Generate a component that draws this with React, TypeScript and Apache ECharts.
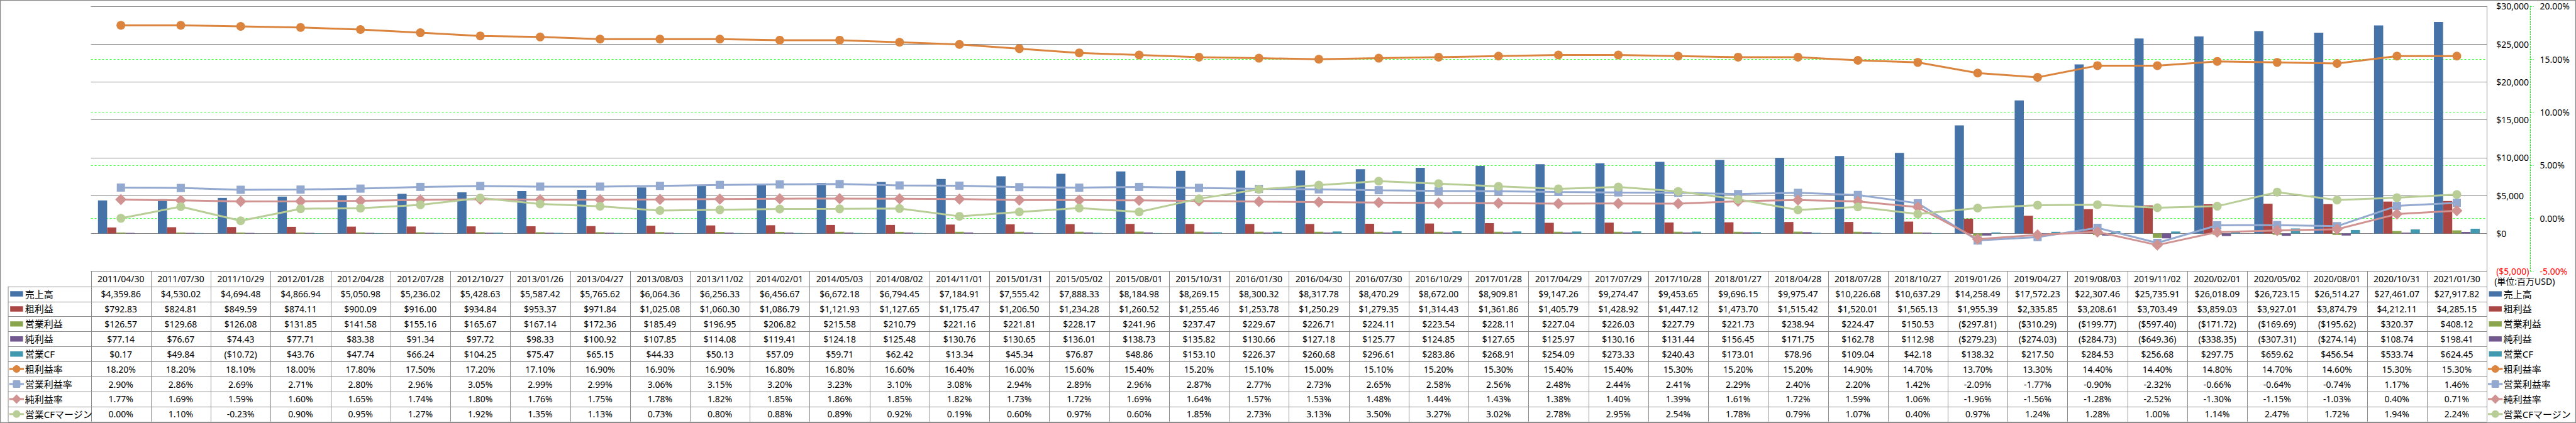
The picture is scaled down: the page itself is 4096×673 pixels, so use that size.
import React, { useEffect, useRef } from "react";
import * as echarts from "echarts";

const dates = [
  "2011/04/30", "2011/07/30", "2011/10/29", "2012/01/28", "2012/04/28", "2012/07/28", "2012/10/27", "2013/01/26",
  "2013/04/27", "2013/08/03", "2013/11/02", "2014/02/01", "2014/05/03", "2014/08/02", "2014/11/01", "2015/01/31",
  "2015/05/02", "2015/08/01", "2015/10/31", "2016/01/30", "2016/04/30", "2016/07/30", "2016/10/29", "2017/01/28",
  "2017/04/29", "2017/07/29", "2017/10/28", "2018/01/27", "2018/04/28", "2018/07/28", "2018/10/27", "2019/01/26",
  "2019/04/27", "2019/08/03", "2019/11/02", "2020/02/01", "2020/05/02", "2020/08/01", "2020/10/31", "2021/01/30",
];

const revenue = [
  4359.86, 4530.02, 4694.48, 4866.94, 5050.98, 5236.02, 5428.63, 5587.42, 5765.62, 6064.36, 6256.33, 6456.67,
  6672.18, 6794.45, 7184.91, 7555.42, 7888.33, 8184.98, 8269.15, 8300.32, 8317.78, 8470.29, 8672.0, 8909.81,
  9147.26, 9274.47, 9453.65, 9696.15, 9975.47, 10226.68, 10637.29, 14258.49, 17572.23, 22307.46, 25735.91,
  26018.09, 26723.15, 26514.27, 27461.07, 27917.82,
];
const grossProfit = [
  792.83, 824.81, 849.59, 874.11, 900.09, 916.0, 934.84, 953.37, 971.84, 1025.08, 1060.3, 1086.79, 1121.93,
  1127.65, 1175.47, 1206.5, 1234.28, 1260.52, 1255.46, 1253.78, 1250.29, 1279.35, 1314.43, 1361.86, 1405.79,
  1428.92, 1447.12, 1473.7, 1515.42, 1520.01, 1565.13, 1955.39, 2335.85, 3208.61, 3703.49, 3859.03, 3927.01,
  3874.79, 4212.11, 4285.15,
];
const operatingIncome = [
  126.57, 129.68, 126.08, 131.85, 141.58, 155.16, 165.67, 167.14, 172.36, 185.49, 196.95, 206.82, 215.58, 210.79,
  221.16, 221.81, 228.17, 241.96, 237.47, 229.67, 226.71, 224.11, 223.54, 228.11, 227.04, 226.03, 227.79, 221.73,
  238.94, 224.47, 150.53, -297.81, -310.29, -199.77, -597.4, -171.72, -169.69, -195.62, 320.37, 408.12,
];
const netIncome = [
  77.14, 76.67, 74.43, 77.71, 83.38, 91.34, 97.72, 98.33, 100.92, 107.85, 114.08, 119.41, 124.18, 125.48, 130.76,
  130.65, 136.01, 138.73, 135.82, 130.66, 127.18, 125.77, 124.85, 127.65, 125.97, 130.16, 131.44, 156.45, 171.75,
  162.78, 112.98, -279.23, -274.03, -284.73, -649.36, -338.35, -307.31, -274.14, 108.74, 198.41,
];
const operatingCF = [
  0.17, 49.84, -10.72, 43.76, 47.74, 66.24, 104.25, 75.47, 65.15, 44.33, 50.13, 57.09, 59.71, 62.42, 13.34, 45.34,
  76.87, 48.86, 153.1, 226.37, 260.68, 296.61, 283.86, 268.91, 254.09, 273.33, 240.43, 173.01, 78.96, 109.04,
  42.18, 138.32, 217.5, 284.53, 256.68, 297.75, 659.62, 456.54, 533.74, 624.45,
];
const grossMargin = [
  18.2, 18.2, 18.1, 18.0, 17.8, 17.5, 17.2, 17.1, 16.9, 16.9, 16.9, 16.8, 16.8, 16.6, 16.4, 16.0, 15.6, 15.4, 15.2,
  15.1, 15.0, 15.1, 15.2, 15.3, 15.4, 15.4, 15.3, 15.2, 15.2, 14.9, 14.7, 13.7, 13.3, 14.4, 14.4, 14.8, 14.7, 14.6,
  15.3, 15.3,
];
const operatingMargin = [
  2.9, 2.86, 2.69, 2.71, 2.8, 2.96, 3.05, 2.99, 2.99, 3.06, 3.15, 3.2, 3.23, 3.1, 3.08, 2.94, 2.89, 2.96, 2.87,
  2.77, 2.73, 2.65, 2.58, 2.56, 2.48, 2.44, 2.41, 2.29, 2.4, 2.2, 1.42, -2.09, -1.77, -0.9, -2.32, -0.66, -0.64,
  -0.74, 1.17, 1.46,
];
const netMargin = [
  1.77, 1.69, 1.59, 1.6, 1.65, 1.74, 1.8, 1.76, 1.75, 1.78, 1.82, 1.85, 1.86, 1.85, 1.82, 1.73, 1.72, 1.69, 1.64,
  1.57, 1.53, 1.48, 1.44, 1.43, 1.38, 1.4, 1.39, 1.61, 1.72, 1.59, 1.06, -1.96, -1.56, -1.28, -2.52, -1.3, -1.15,
  -1.03, 0.4, 0.71,
];
const cfMargin = [
  0.0, 1.1, -0.23, 0.9, 0.95, 1.27, 1.92, 1.35, 1.13, 0.73, 0.8, 0.88, 0.89, 0.92, 0.19, 0.6, 0.97, 0.6, 1.85,
  2.73, 3.13, 3.5, 3.27, 3.02, 2.78, 2.95, 2.54, 1.78, 0.79, 1.07, 0.4, 0.97, 1.24, 1.28, 1.0, 1.14, 2.47, 1.72,
  1.94, 2.24,
];

const unitLabel = "(単位:百万USD)";

const S = 0.522;
const FONT = "'Noto Sans','Noto Sans CJK JP',sans-serif";
const GRID = "#868686";
const BORDER = "#8c8c8c";

type Row = {
  name: string;
  values: number[];
  kind: "bar" | "line";
  color: string;
  symbol?: "circle" | "rect" | "diamond";
  pct: boolean;
};

const rows: Row[] = [
  { name: "売上高", values: revenue, kind: "bar", color: "#4572A7", pct: false },
  { name: "粗利益", values: grossProfit, kind: "bar", color: "#AA4643", pct: false },
  { name: "営業利益", values: operatingIncome, kind: "bar", color: "#89A54E", pct: false },
  { name: "純利益", values: netIncome, kind: "bar", color: "#71588F", pct: false },
  { name: "営業CF", values: operatingCF, kind: "bar", color: "#4198AF", pct: false },
  { name: "粗利益率", values: grossMargin, kind: "line", color: "#DB843D", symbol: "circle", pct: true },
  { name: "営業利益率", values: operatingMargin, kind: "line", color: "#93A9CF", symbol: "rect", pct: true },
  { name: "純利益率", values: netMargin, kind: "line", color: "#D19392", symbol: "diamond", pct: true },
  { name: "営業CFマージン", values: cfMargin, kind: "line", color: "#B9CD96", symbol: "circle", pct: true },
];

const fmtMoney = (v: number) => {
  const s = Math.abs(v).toLocaleString("en-US", { minimumFractionDigits: 2, maximumFractionDigits: 2 });
  return v < 0 ? `($${s})` : `$${s}`;
};
const fmtPct = (v: number) => `${v.toFixed(2)}%`;

export default function App() {
  const ref = useRef<HTMLDivElement>(null);
  useEffect(() => {
    const el = ref.current!;
    const chart = echarts.init(el, null, { renderer: "svg" });

    const W = 4096;
    const H = 673;
    const gridLeft = 277 * S;
    const gridTop = 19 * S;
    const gridRightX = 7575 * S;
    const gridBottomY = 827 * S;
    const rowH = 45.8 * S;
    const labelColLeft = 25 * S;

    const series: any[] = rows.map((r) => {
      if (r.kind === "bar") {
        return {
          name: r.name,
          type: "bar",
          yAxisIndex: 0,
          data: r.values,
          barGap: "0%",
          barCategoryGap: "23.5%",
          itemStyle: { color: r.color },
        };
      }
      return {
        name: r.name,
        type: "line",
        yAxisIndex: 1,
        data: r.values,
        symbol: r.symbol,
        symbolSize: r.symbol === "diamond" ? 18 : r.symbol === "rect" ? 13 : 14,
        lineStyle: { color: r.color, width: 3 },
        itemStyle: { color: r.color },
      };
    });

    const option: any = {
      animation: false,
      backgroundColor: "#ffffff",
      textStyle: { fontFamily: FONT },
      grid: {
        left: gridLeft,
        top: gridTop,
        width: gridRightX - gridLeft,
        height: gridBottomY - gridTop,
        containLabel: false,
      },
      xAxis: {
        type: "category",
        data: dates,
        boundaryGap: true,
        axisLine: { show: true, onZero: false, lineStyle: { color: BORDER, width: 1 } },
        axisTick: { show: false },
        splitLine: { show: false },
        axisLabel: {
          interval: 0,
          fontSize: 14,
          color: "#000",
          fontFamily: FONT,
          margin: 12,
          verticalAlign: "middle",
        },
      },
      yAxis: [
        {
          type: "value",
          position: "right",
          min: -5000,
          max: 30000,
          interval: 5000,
          z: 1,
          axisLine: { show: true, lineStyle: { color: GRID, width: 1 } },
          axisTick: { show: false },
          splitLine: { show: true, lineStyle: { color: GRID, width: 1 } },
          axisLabel: {
            margin: 15,
            fontSize: 14,
            fontFamily: FONT,
            color: (v: any) => (Number(v) < 0 ? "#ff0000" : "#000000"),
            formatter: (v: number) =>
              v < 0 ? `($${Math.abs(v).toLocaleString("en-US")})` : `$${v.toLocaleString("en-US")}`,
          },
        },
        {
          type: "value",
          position: "right",
          offset: (7708 - 7575) * S,
          min: -5,
          max: 20,
          interval: 5,
          axisLine: { show: true, lineStyle: { color: "#00ff00", width: 1, type: [2, 2] } },
          axisTick: { show: true, inside: false, length: 5, lineStyle: { color: "#00ff00", type: [2, 2] } },
          splitLine: { show: true, lineStyle: { color: "#00ff00", width: 0.8, type: [3, 3] } },
          axisLabel: {
            margin: 15,
            fontSize: 14,
            fontFamily: FONT,
            color: (v: any) => (Number(v) < 0 ? "#ff0000" : "#000000"),
            formatter: (v: number) => `${v.toFixed(2)}%`,
          },
        },
      ],
      series,
    };

    chart.setOption(option);

    // Build the data table from the category axis positions
    const xs = dates.map((_, i) => chart.convertToPixel({ xAxisIndex: 0 }, i) as number);
    const colW = xs.length > 1 ? xs[1] - xs[0] : gridRightX - gridLeft;
    const tableTop = gridBottomY;
    const firstRowTop = tableTop + rowH;
    const tableBottom = firstRowTop + rows.length * rowH;
    const tableRight = xs[xs.length - 1] + colW / 2;

    const g: any[] = [];
    // outer frame
    g.push({
      type: "rect",
      silent: true,
      shape: { x: 0.5, y: 0.5, width: W - 1, height: H - 1 },
      style: { fill: "none", stroke: "#8a8a8a", lineWidth: 1.5 },
      z: 10,
    });

    // horizontal lines
    for (let r = 0; r <= rows.length; r++) {
      const y = Math.round(firstRowTop + r * rowH) + 0.5;
      g.push({
        type: "line",
        silent: true,
        shape: { x1: labelColLeft, y1: y, x2: tableRight, y2: y },
        style: { stroke: BORDER, lineWidth: 1 },
      });
    }
    // vertical lines
    g.push({
      type: "line",
      silent: true,
      shape: { x1: labelColLeft, y1: firstRowTop, x2: labelColLeft, y2: tableBottom },
      style: { stroke: BORDER, lineWidth: 1 },
    });
    for (let i = 0; i <= xs.length; i++) {
      const x = Math.round(xs[0] - colW / 2 + i * colW) + 0.5;
      g.push({
        type: "line",
        silent: true,
        shape: { x1: x, y1: tableTop, x2: x, y2: tableBottom },
        style: { stroke: BORDER, lineWidth: 1 },
      });
    }

    // cell values
    rows.forEach((r, ri) => {
      const cy = firstRowTop + ri * rowH + rowH / 2;
      r.values.forEach((v, i) => {
        g.push({
          type: "text",
          silent: true,
          x: xs[i],
          y: cy,
          style: {
            text: r.pct ? fmtPct(v) : fmtMoney(v),
            fontSize: 14,
            fontFamily: FONT,
            fill: "#000",
            align: "center",
            verticalAlign: "middle",
          },
        });
      });
    });

    // legend keys (left in table, and right legend)
    const legendKey = (cx: number, cy: number, r: Row) => {
      if (r.kind === "bar") {
        g.push({
          type: "rect",
          silent: true,
          shape: { x: cx - 10.2, y: cy - 4.2, width: 20.4, height: 8.4 },
          style: { fill: r.color },
        });
      } else {
        g.push({
          type: "line",
          silent: true,
          shape: { x1: cx - 11.7, y1: cy, x2: cx + 11.7, y2: cy },
          style: { stroke: r.color, lineWidth: 3 },
        });
        if (r.symbol === "circle") {
          g.push({ type: "circle", silent: true, shape: { cx, cy, r: 6 }, style: { fill: r.color } });
        } else if (r.symbol === "rect") {
          g.push({
            type: "rect",
            silent: true,
            shape: { x: cx - 6, y: cy - 6, width: 12, height: 12, r: 1.5 },
            style: { fill: r.color },
          });
        } else {
          g.push({
            type: "polygon",
            silent: true,
            shape: { points: [[cx, cy - 7.5], [cx + 7.5, cy], [cx, cy + 7.5], [cx - 7.5, cy]] },
            style: { fill: r.color },
          });
        }
      }
    };

    rows.forEach((r, ri) => {
      const cy = firstRowTop + ri * rowH + rowH / 2;
      // left
      legendKey(26.4, cy, r);
      g.push({
        type: "text",
        silent: true,
        x: 39.7,
        y: cy,
        style: { text: r.name, fontSize: 15, fontFamily: FONT, fill: "#000", align: "left", verticalAlign: "middle" },
      });
      // right
      legendKey(7601 * S, cy, r);
      g.push({
        type: "text",
        silent: true,
        x: 7626 * S,
        y: cy,
        style: { text: r.name, fontSize: 15, fontFamily: FONT, fill: "#000", align: "left", verticalAlign: "middle" },
      });
    });

    g.push({
      type: "text",
      silent: true,
      x: 7598 * S,
      y: tableTop + rowH / 2 + 4,
      style: { text: unitLabel, fontSize: 14, fontFamily: FONT, fill: "#000", align: "left", verticalAlign: "middle" },
    });

    chart.setOption({ graphic: g });

    return () => {
      chart.dispose();
    };
  }, []);

  return (
    <div
      ref={ref}
      style={{ position: "fixed", left: 0, top: 0, width: 4096, height: 673, background: "#fff" }}
    />
  );
}
